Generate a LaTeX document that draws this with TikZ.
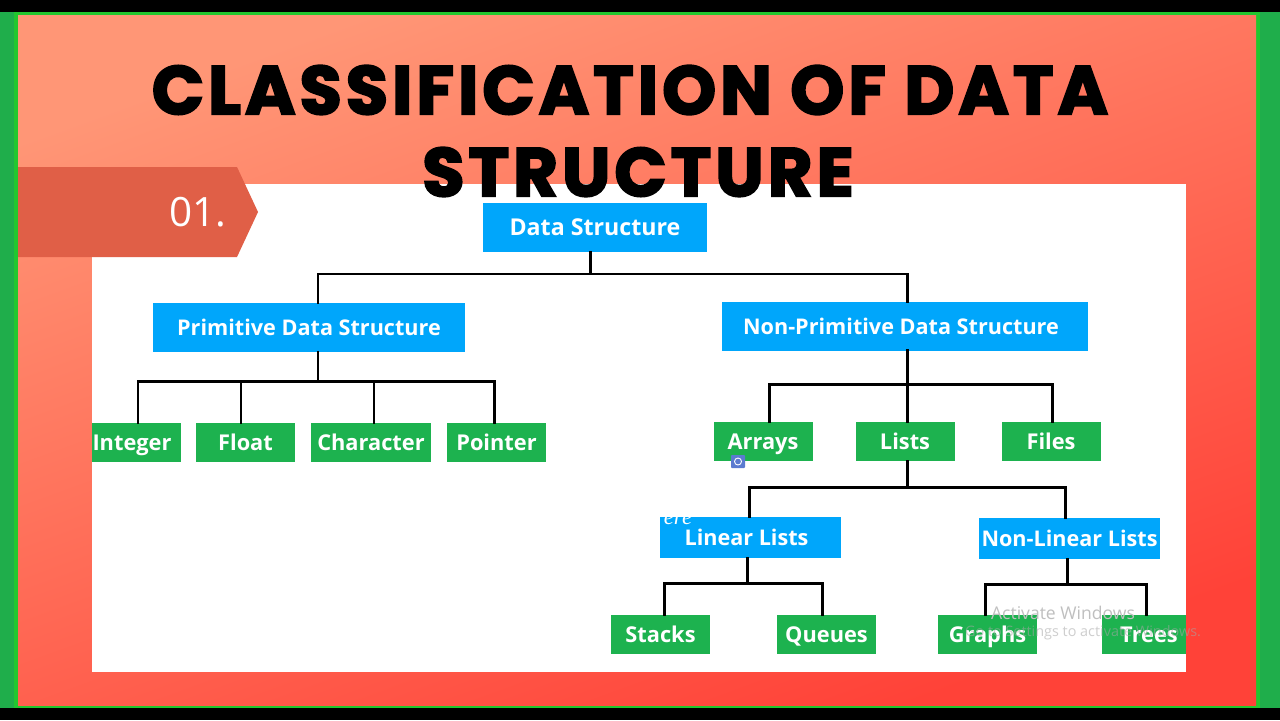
\documentclass[tikz,border=0pt]{standalone}
\usepackage{fontspec}
\setmainfont{Open Sans}
\newfontfamily\titlefont[BoldFeatures={FakeBold=3},LetterSpace=6]{Poppins}
\newfontfamily\erefont{Liberation Serif}
\usepackage{tikz}
\usetikzlibrary{positioning,calc}
\definecolor{boxblue}{HTML}{00A6FB}
\definecolor{boxgreen}{HTML}{1DB24F}
\definecolor{framegreen}{HTML}{1FAE4B}
\definecolor{linegreen}{HTML}{22C72F}
\definecolor{tabred}{HTML}{E05F47}
\definecolor{bgfrom}{HTML}{FF9676}
\definecolor{bgto}{HTML}{FF4238}
\definecolor{camblue}{HTML}{5B7BD0}

\begin{document}
\begin{tikzpicture}[
    x=0.02cm, y=-0.02cm,
    bluebox/.style={fill=boxblue, text=white, minimum height=0.98cm, inner sep=0pt, text height=12pt, text depth=2.4pt, font=\fontsize{12.3}{15}\selectfont\bfseries},
    greenbox/.style={fill=boxgreen, text=white, minimum width=1.98cm, minimum height=0.78cm, inner sep=0pt, text height=12pt, text depth=2.4pt, font=\fontsize{12.4}{15}\selectfont\bfseries},
    conn/.style={line width=1.7pt, line cap=rect},
    title/.style={font=\titlefont\bfseries\fontsize{39}{44}\selectfont, text=black, inner sep=0pt}
]
\useasboundingbox (0,0) rectangle (1280,720);
% frame
\fill[black] (0,0) rectangle (1280,720);
\fill[framegreen] (0,12) rectangle (1280,708);
\fill[linegreen] (14,12) rectangle (1260,708);
\shade[left color=bgfrom, right color=bgto, shading angle=20] (18,15) rectangle (1256,705);
\fill[white] (92,184) rectangle (1186,672);
\fill[tabred] (18,167) -- (237,167) -- (258,212) -- (237,257) -- (18,257) -- cycle;
\node[text=white, font=\fontsize{23}{26}\selectfont] (num) at (198,212) {01.};

% boxes
\node[bluebox, minimum width=4.48cm, font=\fontsize{13.2}{15}\selectfont\bfseries] (ds) at (595,227.5) {Data Structure};
\node[bluebox, minimum width=6.24cm] (prim) at (309,327.5) {Primitive Data Structure};
\node[bluebox, minimum width=7.32cm] (nonprim) at (905,326) {\hspace{-0.16cm}Non-Primitive Data Structure};

\node[greenbox, minimum width=1.78cm] (int) at (136.5,442.5) {\hspace{-0.18cm}Integer};
\node[greenbox] (float) at (245.5,442.5) {Float};
\node[greenbox, minimum width=2.4cm] (char) at (371,442.5) {Character};
\node[greenbox] (ptr) at (496.5,442.5) {Pointer};

\node[greenbox] (arrays) at (763,441.5) {Arrays};
\node[greenbox] (lists) at (905,441.5) {Lists};
\node[greenbox] (files) at (1051,441.5) {Files};

\node[bluebox, minimum width=3.62cm, minimum height=0.82cm] (linear) at (750.5,537.5) {\hspace{-0.16cm}Linear Lists};
\node[bluebox, minimum width=3.62cm, minimum height=0.82cm] (nonlinear) at (1069.5,538.5) {Non-Linear Lists};

\node[greenbox] (stacks) at (660.5,634.5) {Stacks};
\node[greenbox] (queues) at (826.5,634.5) {Queues};
\node[greenbox] (graphs) at (987.5,634.5) {Graphs};
\node[greenbox, minimum width=1.68cm] (trees) at (1144,634.5) {\hspace{0.2cm}Trees};

% bus lines
\coordinate (bus1) at (590,274);
\coordinate (bus1a) at (318,274);
\coordinate (bus1b) at (907,274);
\coordinate (bus2) at (318,381);
\coordinate (bus2a) at (138,381);
\coordinate (bus2b) at (241,381);
\coordinate (bus2c) at (374,381);
\coordinate (bus2d) at (494,381);
\coordinate (bus3) at (907,384);
\coordinate (bus3a) at (769,384);
\coordinate (bus3b) at (1052,384);
\coordinate (bus4) at (907,487);
\coordinate (bus4a) at (749,487);
\coordinate (bus4b) at (1065,487);
\coordinate (bus5) at (747,583);
\coordinate (bus5a) at (664,583);
\coordinate (bus5b) at (822,583);
\coordinate (bus6) at (1067,584);
\coordinate (bus6a) at (985,584);
\coordinate (bus6b) at (1146,584);

\draw[conn] (ds.south -| bus1) -- (bus1);
\draw[conn] (bus1a) -- (bus1b);
\draw[conn] (bus1a) -- (bus1a |- prim.north);
\draw[conn] (bus1b) -- (bus1b |- nonprim.north);

\draw[conn] (prim.south -| bus2) -- (bus2);
\draw[conn] (bus2a) -- (bus2d);
\draw[conn] (bus2a) -- (bus2a |- int.north);
\draw[conn] (bus2b) -- (bus2b |- float.north);
\draw[conn] (bus2c) -- (bus2c |- char.north);
\draw[conn] (bus2d) -- (bus2d |- ptr.north);

\draw[conn] (nonprim.south -| bus3) -- (bus3 |- lists.north);
\draw[conn] (bus3a) -- (bus3b);
\draw[conn] (bus3a) -- (bus3a |- arrays.north);
\draw[conn] (bus3b) -- (bus3b |- files.north);

\draw[conn] (lists.south -| bus4) -- (bus4);
\draw[conn] (bus4a) -- (bus4b);
\draw[conn] (bus4a) -- (bus4a |- linear.north);
\draw[conn] (bus4b) -- (bus4b |- nonlinear.north);

\draw[conn] (linear.south -| bus5) -- (bus5);
\draw[conn] (bus5a) -- (bus5b);
\draw[conn] (bus5a) -- (bus5a |- stacks.north);
\draw[conn] (bus5b) -- (bus5b |- queues.north);

\draw[conn] (nonlinear.south -| bus6) -- (bus6);
\draw[conn] (bus6a) -- (bus6b);
\draw[conn] (bus6a) -- (bus6a |- graphs.north);
\draw[conn] (bus6b) -- (bus6b |- trees.north);

% overlays on the screenshot
\node[text=white, font=\erefont\itshape\fontsize{13}{14}\selectfont, inner sep=0pt] (ere) at (678,519) {ere};
\fill[camblue, rounded corners=0.5pt] (731,455) rectangle (745,468);
\draw[white, line width=0.5pt] (738,461.5) circle (3.5);
\node[text=black!25, font=\fontsize{10}{12}\selectfont, inner sep=0pt] (wm1) at (1063,613) {Activate Windows};
\node[text=black!35, opacity=0.55, font=\fontsize{8.2}{9}\selectfont, inner sep=0pt] (wm2) at (1083,633) {Go to Settings to activate Windows.};

% title
\node[title] (line1) at (630,90) {CLASSIFICATION OF DATA};
\node[title] (line2) at (638,172) {STRUCTURE};
\end{tikzpicture}
\end{document}
